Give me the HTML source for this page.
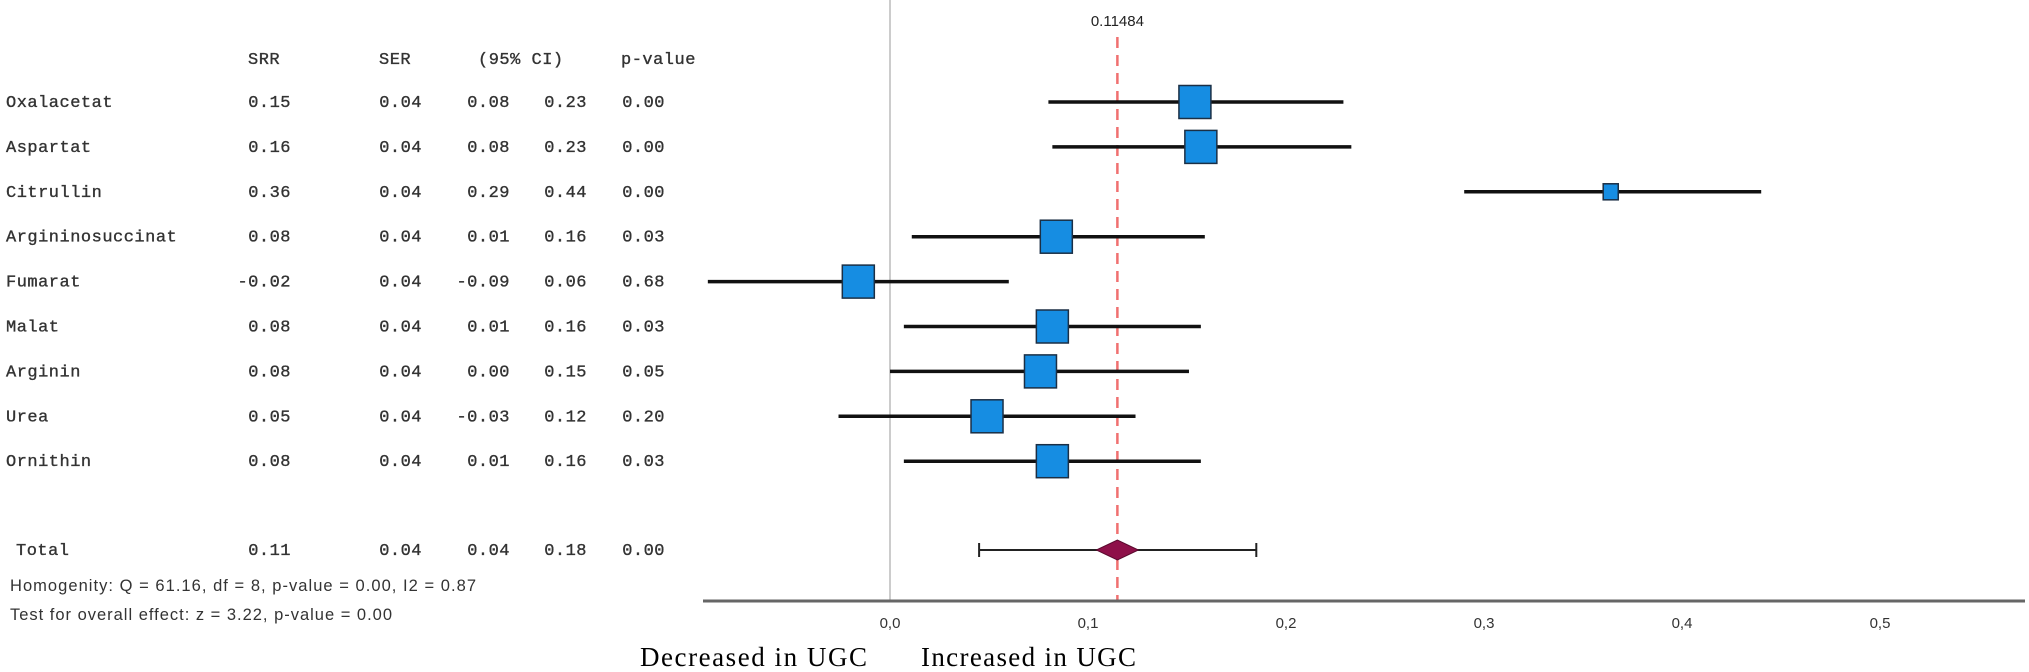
<!DOCTYPE html>
<html><head><meta charset="utf-8"><style>
html,body{margin:0;padding:0;background:#fff;}
svg{display:block;}
.mono{font-family:"Liberation Mono",monospace;font-size:17px;fill:#333;stroke:#333;stroke-width:0.35;letter-spacing:0.5px;}
.sans{font-family:"Liberation Sans",sans-serif;font-size:15px;fill:#333;}
.stat{font-family:"Liberation Sans",sans-serif;font-size:16.5px;fill:#333;}
.serif{font-family:"Liberation Serif",serif;font-size:27px;fill:#000;}
</style></head><body>
<svg id="chart" width="2029" height="672" viewBox="0 0 2029 672">
<g id="table"></g>
<g id="plot"></g>
</svg>
<script>
const studies=["Oxalacetat","Aspartat","Citrullin","Argininosuccinat","Fumarat","Malat","Arginin","Urea","Ornithin"];
const estimates=[0.154,0.157,0.364,0.084,-0.016,0.082,0.076,0.049,0.082];
const lowerCI=[0.080,0.082,0.290,0.011,-0.092,0.007,0.000,-0.026,0.007];
const upperCI=[0.229,0.233,0.440,0.159,0.060,0.157,0.151,0.124,0.157];
const weights=[1,1,0.47,1,1,1,1,1,1];
const colSRR=["0.15","0.16","0.36","0.08","-0.02","0.08","0.08","0.05","0.08"];
const colSER=["0.04","0.04","0.04","0.04","0.04","0.04","0.04","0.04","0.04"];
const colLo=["0.08","0.08","0.29","0.01","-0.09","0.01","0.00","-0.03","0.01"];
const colHi=["0.23","0.23","0.44","0.16","0.06","0.16","0.15","0.12","0.16"];
const colP=["0.00","0.00","0.00","0.03","0.68","0.03","0.05","0.20","0.03"];
const totalEst=0.11484, totalLo=0.045, totalHi=0.185;
const totalRow=["Total","0.11","0.04","0.04","0.18","0.00"];
const ticks=[0,0.1,0.2,0.3,0.4,0.5];
const tickLabels=["0,0","0,1","0,2","0,3","0,4","0,5"];

const NS="http://www.w3.org/2000/svg";
const xS=v=>890+v*1980;
const rowY=i=>102+i*44.9;
const totalY=550;
function mk(parent,tag,attrs,text){const e=document.createElementNS(NS,tag);for(const k in attrs)e.setAttribute(k,attrs[k]);if(text!==undefined)e.textContent=text;parent.appendChild(e);return e;}
const T=document.getElementById('table'), P=document.getElementById('plot');

const hdrs=[["SRR",248,"start"],["SER",379,"start"],["(95% CI)",478,"start"],["p-value",621,"start"]];
hdrs.forEach(h=>{const t=mk(T,'text',{x:h[1],y:64,'text-anchor':h[2],class:'mono'},h[0]);

});

const colX=[291,422,510,587,665];
studies.forEach((s,i)=>{
  const y=rowY(i)+5;
  const l=mk(T,'text',{x:6,y:y,class:'mono'},s);
  
  
  [colSRR,colSER,colLo,colHi,colP].forEach((c,j)=>{
    const t=mk(T,'text',{x:colX[j],y:y,'text-anchor':'end',class:'mono'},c[i]);
    
    
  });
});
const tl=mk(T,'text',{x:16,y:totalY+5,class:'mono'},totalRow[0]);


totalRow.slice(1).forEach((v,j)=>{const t=mk(T,'text',{x:colX[j],y:totalY+5,'text-anchor':'end',class:'mono'},v);

});
const h1=mk(T,'text',{x:10,y:591,class:'stat',textLength:466},"Homogenity: Q = 61.16, df = 8, p-value = 0.00, I2 = 0.87");


const h2=mk(T,'text',{x:10,y:620,class:'stat',textLength:382},"Test for overall effect: z = 3.22, p-value = 0.00");



const z=mk(P,'line',{x1:xS(0),x2:xS(0),y1:0,y2:600,stroke:'#ccc','stroke-width':2});


const r=mk(P,'line',{x1:xS(totalEst),x2:xS(totalEst),y1:37,y2:600,stroke:'#f07070','stroke-width':2.5,'stroke-dasharray':'11,7'});


const rl=mk(P,'text',{x:xS(totalEst),y:26,'text-anchor':'middle',class:'sans',style:'fill:#222'},"0.11484");



const ax=mk(P,'line',{x1:703,x2:2025,y1:601,y2:601,stroke:'#666','stroke-width':3});


ticks.forEach((t,i)=>{const e=mk(P,'text',{x:xS(t),y:628,'text-anchor':'middle',class:'sans'},tickLabels[i]);

});

studies.forEach((s,i)=>{
  const y=rowY(i);
  const l=mk(P,'line',{x1:xS(lowerCI[i]),x2:xS(upperCI[i]),y1:y,y2:y,stroke:'#111','stroke-width':3.5});
  
  
  const sz=32*weights[i];
  const b=mk(P,'rect',{x:xS(estimates[i])-sz/2,y:y-sz/2-0.5,width:sz,height:sz+1,fill:'#168de2',stroke:'#1b2f45','stroke-width':1.5});
  
  
});
const tw=mk(P,'path',{d:`M${xS(totalLo)} ${totalY}H${xS(totalHi)}M${xS(totalLo)} ${totalY-7}V${totalY+7}M${xS(totalHi)} ${totalY-7}V${totalY+7}`,stroke:'#222','stroke-width':2,fill:'none'});


const cx=xS(totalEst);
const d=mk(P,'path',{d:`M${cx-21} ${totalY}L${cx} ${totalY-10}L${cx+21} ${totalY}L${cx} ${totalY+10}Z`,fill:'#8e1049',stroke:'#5a0a2e','stroke-width':1});



const dl=mk(P,'text',{x:640,y:666,class:'serif',textLength:227},"Decreased in UGC");


const il=mk(P,'text',{x:921,y:666,class:'serif',textLength:215},"Increased in UGC");


</script>
</body></html>
